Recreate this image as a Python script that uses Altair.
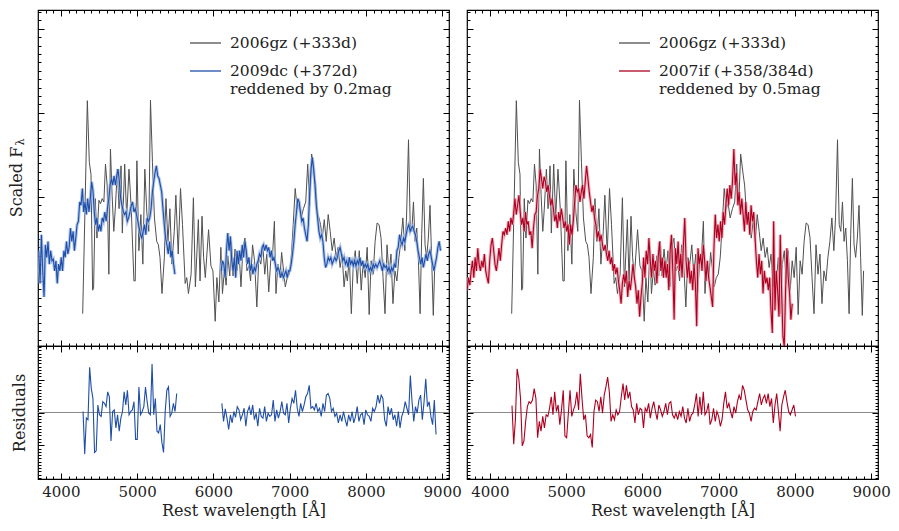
import altair as alt
import numpy as np
import pandas as pd

# ---------------- data ----------------
# SN 2006gz (+333d), grey spectrum (wavelength in Angstrom, scaled flux)
GRAY_WL = [4286, 4347, 4373, 4395, 4416, 4429, 4451, 4473, 4499, 4520, 4542, 4564, 4585, 4607, 4629,
           4650, 4672, 4694, 4715, 4741, 4763, 4789, 4806, 4837, 4863, 4893, 4923, 4958, 4975, 4997,
           5023, 5049, 5075, 5101, 5127, 5153, 5175, 5201, 5227, 5257, 5279, 5300, 5326, 5357, 5378,
           5404, 5430, 5456, 5487, 5508, 5539, 5569, 5595, 5630, 5651, 5673, 5708, 5738, 5764, 5803,
           5825, 5851, 5872, 5894, 5937, 5968, 5994, 6024, 6046, 6072, 6098, 6119, 6145, 6167, 6189,
           6215, 6236, 6258, 6284, 6310, 6336, 6362, 6388, 6414, 6440, 6466, 6488, 6514, 6540, 6570,
           6596, 6622, 6648, 6674, 6700, 6726, 6752, 6778, 6800, 6821, 6847, 6873, 6895, 6921, 6943,
           6969, 6995, 7021, 7047, 7073, 7099, 7125, 7151, 7181, 7211, 7237, 7263, 7289, 7324, 7341,
           7363, 7385, 7406, 7428, 7454, 7480, 7506, 7532, 7558, 7584, 7610, 7636, 7662, 7688, 7714,
           7736, 7757, 7783, 7809, 7835, 7861, 7887, 7913, 7939, 7965, 7991, 8017, 8043, 8069, 8095,
           8121, 8147, 8173, 8199, 8225, 8251, 8277, 8303, 8329, 8355, 8381, 8407, 8433, 8459, 8485,
           8511, 8533, 8559, 8581, 8602, 8624, 8645, 8667, 8689, 8711, 8732, 8754, 8776, 8797, 8819,
           8841, 8862, 8884, 8901]
GRAY_FLUX = [0.61, 3.145, 2.41, 2.27, 0.89, 0.91, 1.98, 1.51, 1.96, 1.92, 1.98, 1.94, 2.39, 2.14, 1.08,
             2.57, 2.02, 1.59, 1.88, 2.33, 1.86, 2.37, 1.57, 2.39, 1.75, 2.33, 1.86, 1.00, 1.00, 2.43,
             1.36, 1.79, 1.20, 2.33, 1.82, 1.59, 3.15, 2.41, 1.75, 1.47, 1.43, 1.28, 0.85, 1.28, 1.98,
             1.47, 1.86, 1.20, 1.59, 2.02, 1.32, 2.10, 1.67, 0.97, 1.04, 0.85, 1.08, 1.99, 0.93, 1.73,
             1.00, 1.77, 1.28, 1.04, 1.61, 1.18, 1.12, 0.52, 1.04, 0.75, 1.40, 0.85, 1.14, 0.95, 1.30,
             1.06, 1.47, 1.06, 1.38, 1.12, 1.36, 0.93, 1.40, 1.51, 1.12, 1.18, 1.00, 1.43, 1.24, 0.69,
             1.28, 1.20, 1.43, 1.08, 1.32, 0.87, 1.24, 1.34, 1.71, 0.85, 1.20, 1.04, 1.34, 1.12, 0.93,
             1.04, 1.08, 1.28, 1.67, 2.10, 1.86, 1.92, 1.75, 1.86, 1.94, 2.39, 1.90, 2.51, 2.25, 2.14,
             1.82, 1.75, 1.67, 1.51, 1.73, 1.47, 1.79, 1.59, 1.36, 1.51, 1.28, 1.40, 1.16, 1.32, 0.93,
             1.12, 1.00, 1.28, 0.61, 1.20, 1.36, 0.97, 1.36, 0.89, 1.24, 1.04, 1.40, 0.60, 1.24, 1.08,
             1.47, 1.69, 1.67, 1.51, 1.04, 0.61, 1.43, 1.08, 1.32, 0.73, 1.12, 1.00, 1.28, 1.47, 1.75,
             1.36, 1.75, 2.68, 1.67, 1.59, 1.94, 1.47, 1.63, 1.24, 0.61, 1.55, 2.22, 1.43, 1.28, 1.51,
             1.90, 1.28, 0.59, 1.12]

# SN 2009dc (+372d), two pieces sampled on a regular wavelength grid
BLUE_STEP = 17.33
BLUE1_START = 3710
BLUE1_FLUX = [1.36, 0.97, 1.55, 1.12, 0.81, 1.43, 1.28, 1.47, 1.20, 1.36, 1.24, 1.26, 1.12, 1.24, 0.97,
              1.20, 1.12, 1.28, 1.12, 1.36, 1.28, 1.47, 1.32, 1.40, 1.63, 1.47, 1.59, 1.36, 1.51, 1.67,
              1.71, 1.94, 1.90, 2.10, 1.82, 1.94, 1.79, 1.98, 1.82, 1.98, 2.18, 2.08, 1.82, 1.67, 1.75,
              1.59, 1.67, 1.59, 1.75, 1.71, 1.82, 1.71, 1.86, 1.98, 2.14, 2.22, 2.14, 2.25, 2.14, 2.25,
              2.33, 2.18, 1.98, 1.90, 1.82, 1.79, 1.82, 1.71, 1.75, 1.82, 1.90, 1.94, 1.82, 1.86, 1.79,
              1.71, 1.63, 1.55, 1.51, 1.59, 1.67, 1.55, 1.75, 1.71, 1.75, 1.86, 2.06, 2.18, 2.29, 2.37,
              2.25, 2.22, 2.14, 2.06, 1.86, 1.67, 1.51, 1.43, 1.32, 1.47, 1.28, 1.36, 1.20, 1.08]
BLUE2_START = 6102
BLUE2_FLUX = [1.12, 1.24, 1.20, 1.04, 1.36, 1.57, 1.36, 1.53, 1.24, 1.12,
              1.28, 1.04, 1.36, 1.20, 1.36, 1.24, 1.43, 1.28, 1.47, 1.36,
              1.20, 1.28, 1.12, 1.20, 1.08, 1.16, 1.12, 1.20, 1.24, 1.32,
              1.28, 1.40, 1.43, 1.36, 1.43, 1.36, 1.40, 1.28, 1.36, 1.24,
              1.28, 1.20, 1.12, 1.16, 1.12, 1.04, 1.10, 1.04, 1.08, 1.12,
              1.04, 1.12, 1.12, 1.20, 1.32, 1.47, 1.67, 1.82, 1.98, 1.94,
              1.82, 1.71, 1.75, 1.63, 1.55, 1.47, 1.67, 2.06, 2.33, 2.47,
              2.33, 2.14, 1.90,
              1.75, 1.59, 1.51, 1.55, 1.47, 1.28, 1.16, 1.20, 1.28, 1.24,
              1.28, 1.20, 1.24, 1.28, 1.24, 1.28, 1.36, 1.40, 1.32, 1.24,
              1.28, 1.20, 1.24, 1.16, 1.28, 1.20, 1.24, 1.18, 1.24, 1.18,
              1.24, 1.20, 1.28, 1.18, 1.24, 1.16, 1.20, 1.16, 1.20, 1.12,
              1.16, 1.12, 1.20, 1.16, 1.20, 1.16, 1.20, 1.24, 1.18, 1.12,
              1.20, 1.16, 1.18, 1.12, 1.16, 1.10, 1.16, 1.12, 1.20, 1.16,
              1.36, 1.40, 1.55, 1.47, 1.43, 1.51, 1.47, 1.55, 1.63, 1.67,
              1.59, 1.63, 1.65, 1.59, 1.55, 1.47, 1.36, 1.28, 1.20, 1.28,
              1.16, 1.24, 1.32, 1.24, 1.32, 1.36, 1.28, 1.20, 1.12, 1.20,
              1.28, 1.40, 1.47, 1.36]

# SN 2007if (+358/384d), regular wavelength grid
RED_START = 3702
RED_STEP = 17.4
RED_FLUX = [0.89, 1.04, 0.95, 1.12, 1.24, 1.04, 1.28, 1.12, 1.39, 1.20,
            1.12, 1.24, 1.16, 1.32, 1.12, 1.04, 0.97, 1.24, 1.43, 1.51,
            1.36, 1.20, 1.12, 1.24, 1.39, 1.24, 1.43, 1.59, 1.55, 1.63,
            1.55, 1.71, 1.59, 1.75, 1.67, 1.79, 1.98, 1.79, 1.90, 2.02,
            1.82, 1.67, 1.75, 1.59, 1.82, 1.67, 1.71, 1.55, 1.59, 1.39,
            1.63, 1.79, 1.82, 2.02, 2.10, 2.33, 2.22, 2.10, 2.24, 2.18,
            2.06, 2.14, 2.02, 1.90, 1.98, 1.86, 1.71, 1.79, 1.63, 1.82,
            1.71, 1.86, 1.75, 1.63, 1.71, 1.59, 1.67, 1.43, 1.67, 1.55,
            1.71, 1.94, 2.14, 2.06, 2.10, 1.94, 2.06, 2.14, 1.98, 2.18,
            2.37, 2.22, 2.06, 1.94, 1.82, 1.90, 1.75, 1.67, 1.51, 1.59,
            1.47, 1.55, 1.43, 1.36, 1.43, 1.32, 1.24, 1.36, 1.20, 1.28,
            1.12, 1.20, 1.08, 1.16, 1.00, 0.89, 0.73, 0.97, 1.08, 0.97,
            1.12, 0.81, 1.00, 0.89, 1.04, 1.20, 1.04, 0.93, 0.73, 0.89,
            0.575, 0.81, 0.97,
            1.28, 1.04, 1.36, 1.20, 1.51, 1.24, 1.04, 1.32, 1.12, 1.24,
            0.97, 1.28, 1.47, 1.12, 1.28, 1.04, 1.24, 1.04, 1.20, 0.89,
            1.36, 1.55, 1.12, 0.54, 1.39, 1.20, 1.47, 1.12, 1.32, 1.04,
            1.43, 1.75, 1.24, 1.04, 1.24, 0.97, 1.12, 0.89, 1.20, 0.97,
            0.46, 1.39, 1.20, 1.32, 1.12, 1.43, 1.24, 1.00, 1.24, 1.04,
            0.93, 0.81, 0.69, 1.39, 1.79, 1.51, 1.67, 1.47, 1.71, 1.51,
            1.82, 1.67, 1.90, 2.10, 1.90, 2.14, 1.98, 2.18, 2.57, 2.14,
            2.29, 1.90, 2.06, 1.79, 1.98, 1.79, 1.59, 1.94, 1.67, 1.82,
            1.55, 1.90, 1.71, 1.82, 1.51, 1.24, 1.04, 1.32, 1.08, 1.24,
            0.85, 1.12, 0.97, 1.04, 0.89, 1.04, 0.65, 0.38, 1.71, 0.65,
            1.12, 0.89, 0.575, 1.55, 0.89, 0.34, 0.22, 0.89, 1.39, 1.04,
            0.85, 0.54, 0.73]

# Residuals (2006gz minus comparison), regular grids between first and last wavelength
RES_BLUE1_RANGE = (4291, 5519)
RES_BLUE1 = [0.03, -1.27, -0.17, -0.22, 1.38, 0.73, 0.43, -1.22, -1.17, 0.23,
             -0.07, -0.12, 0.33, 0.28, 0.18, 0.63, 0.48, -0.87, 0.03, 0.08,
             -0.47, -0.07, -0.57, -0.17, 0.03, 0.63, 0.23, 0.68, -0.07, 0.03,
             0.08, 0.33, -0.82, -0.82, 0.78, -0.07, 0.03, 0.18, 0.78, 0.33,
             -0.02, -0.07, 1.48, -0.07, 0.43, -0.57, -0.62, -0.37, -0.92, -1.22,
             0.03, 0.68, 0.78, -0.12, -0.02, 0.28, 0.03, 0.58]
RES_BLUE2_RANGE = (6111, 8920)
RES_BLUE2 = [0.28, -0.27, 0.11, -0.17, -0.52, -0.07, -0.32, 0.03, -0.15, 0.18,
             0.08, -0.22, -0.07, 0.13, -0.42, 0.03, 0.18, -0.07, 0.23, -0.22,
             -0.02, -0.42, 0.13, -0.12, -0.17, 0.18, -0.27, -0.02, -0.12, -0.07,
             0.38, -0.27, 0.08, -0.17, 0.03, 0.33, -0.02, -0.07, 0.28, -0.32,
             0.13, 0.43, 0.28, 0.68, 0.13, -0.12, 0.28, 0.03, 0.23, 0.48,
             0.58, 0.83, 0.13, 0.18, 0.08, 0.28, 0.03, 0.13, -0.12, 0.28,
             0.03, 0.53, 0.58, 0.43, 0.03, 0.13, -0.12, -0.02, -0.32, -0.07,
             -0.27, 0.03, -0.22, -0.42, -0.07, -0.27, 0.03, -0.32, -0.12, 0.18,
             -0.27, -0.07, -0.02, -0.37, 0.08, -0.07, -0.12, -0.27, 0.13, 0.03,
             0.18, 0.53, 0.28, 0.53, 0.43, -0.22, -0.42, 0.18, -0.07, 0.13,
             -0.22, -0.07, -0.42, 0.03, -0.47, -0.12, 0.03, 0.33, 0.13, -0.07,
             1.13, 0.33, -0.27, 0.18, -0.02, 0.38, 0.53, -0.22, 0.33, 1.03,
             0.18, 0.33, -0.12, -0.37, 0.38, -0.67]
RES_RED_RANGE = (4290, 8008)
RES_RED = [0.21, -0.97, -0.22, 1.33, 1.03, 0.43, -1.02, -0.87, -0.27, 0.18,
           0.33, 0.28, 0.38, 0.73, 0.43, -0.77, -0.27, -0.57, -0.12, -0.47,
           -0.07, -0.12, 0.13, 0.48, -0.07, 0.63, 0.03, 0.23, -0.37, 0.08,
           0.68, -0.72, -0.77, -0.02, 0.68, -0.12, 0.08, 0.23, 0.63, 0.08,
           1.18, 0.43, -0.22, -0.07, -0.72, -0.77, -0.67, -1.07, 0.03, 0.38,
           0.33, 0.03, 0.48, -0.02, 0.53, 0.78, 1.08, 0.63, -0.27, -0.07,
           -0.22, 0.08, -0.07, 0.03, 0.48, 0.88, 0.38, 0.83, 0.43, 0.63,
           0.18, 0.08, -0.32, 0.28, -0.07, 0.13, 0.08, -0.47, 0.13, 0.03,
           0.28, -0.17, 0.13, 0.33, 0.03, -0.22, 0.23, 0.08, -0.12, 0.03,
           0.28, -0.07, 0.28, 0.33, -0.07, -0.17, -0.02, -0.22, 0.03, -0.12,
           0.18, -0.17, -0.32, 0.13, -0.27, -0.07, -0.02, 0.23, 0.58, -0.12,
           0.48, -0.07, 0.63, -0.07, 0.03, 0.28, -0.37, -0.22, 0.13, -0.27,
           0.03, -0.12, -0.42, -0.22, 0.28, 0.63, 0.13, 0.28, 0.03, -0.17,
           0.18, -0.02, 0.33, 0.53, 0.38, 0.83, 0.68, 0.38, 0.08, -0.02,
           -0.27, 0.03, 0.13, 0.08, 0.33, 0.58, 0.23, 0.43, 0.53, 0.28,
           0.58, 0.18, 0.43, -0.32, 0.23, 0.58, 0.03, -0.57, 0.23, 0.48,
           0.68, 0.33, 0.03, -0.07, 0.08, 0.23, -0.12]

LEGEND_LEFT = ["2006gz (+333d)", "2009dc (+372d)", "reddened by 0.2mag"]
LEGEND_RIGHT = ["2006gz (+333d)", "2007if (+358/384d)", "reddened by 0.5mag"]
YTITLE_TOP = ("Scaled F", "λ")
YTITLE_RES = "Residuals"
XTITLE = "Rest wavelength [Å]"

X_MAJOR = [4000, 5000, 6000, 7000, 8000, 9000]
X_MINOR = [3800 + 100 * i for i in range(53)]
Y_MAJOR = [1, 2, 3, 4]
Y_MINOR = [round(0.3 + 0.1 * i, 1) for i in range(40)]
R_MAJOR = [-1, 0, 1]
R_MINOR = [round(-2.0 + 0.1 * i, 1) for i in range(41)]

# ---------------- styling ----------------
FONT = "DejaVu Serif"
XDOM = [3700, 9090]
YDOM = [0.226, 4.224]
RDOM = [-2.03, 2.03]
W, H_TOP, H_RES = 411, 336, 133
GRAY = "#505050"
TXT = "#222222"
BLUE, BLUE_HALO = "#1f4ea6", "#9db8e6"
RED, RED_HALO = "#ad0020", "#eba3b0"
TITLE_PAD = 10

# ---------------- tables ----------------
gray = pd.DataFrame({"wl": GRAY_WL, "y": GRAY_FLUX, "seg": "a"})
blue = pd.concat([
    pd.DataFrame({"wl": BLUE1_START + BLUE_STEP * np.arange(len(BLUE1_FLUX)), "y": BLUE1_FLUX, "seg": "a"}),
    pd.DataFrame({"wl": BLUE2_START + BLUE_STEP * np.arange(len(BLUE2_FLUX)), "y": BLUE2_FLUX, "seg": "b"}),
])
red = pd.DataFrame({"wl": RED_START + RED_STEP * np.arange(len(RED_FLUX)), "y": RED_FLUX, "seg": "a"})
res_blue = pd.concat([
    pd.DataFrame({"wl": np.linspace(*RES_BLUE1_RANGE, len(RES_BLUE1)), "y": RES_BLUE1, "seg": "a"}),
    pd.DataFrame({"wl": np.linspace(*RES_BLUE2_RANGE, len(RES_BLUE2)), "y": RES_BLUE2, "seg": "b"}),
])
res_red = pd.DataFrame({"wl": np.linspace(*RES_RED_RANGE, len(RES_RED)), "y": RES_RED, "seg": "a"})
zero = pd.DataFrame({"y": [0.0]})
one = pd.DataFrame({"k": [0]})


def scales(ydom):
    return (alt.Scale(domain=XDOM, nice=False, zero=False),
            alt.Scale(domain=ydom, nice=False, zero=False))


def carriers(df, ydom, ymaj, ymin, xlabels, xtitle, ytitle):
    xs, ys = scales(ydom)
    out = []
    for xo, yo, size, major in [("bottom", "left", 6, True), ("bottom", "left", 3, False),
                                ("top", "right", 6, True), ("top", "right", 3, False)]:
        show_xl = bool(xlabels and major and xo == "bottom")
        xt = xtitle if show_xl else None
        yt = ytitle if (major and yo == "left") else None
        xax = alt.Axis(orient=xo, values=X_MAJOR if major else X_MINOR, tickSize=size, offset=-size,
                       domain=False, grid=False, labels=show_xl, labelPadding=5, titlePadding=3,
                       tickColor="black", tickWidth=1, format="d")
        yax = alt.Axis(orient=yo, values=ymaj if major else ymin, tickSize=size, offset=-size,
                       domain=False, grid=False, labels=False, titlePadding=TITLE_PAD,
                       tickColor="black", tickWidth=1)
        out.append(alt.Chart(df).mark_point(opacity=0).encode(
            x=alt.X("wl:Q", scale=xs, axis=xax, title=xt),
            y=alt.Y("y:Q", scale=ys, axis=yax, title=yt)))
    return out


def line(df, ydom, color, width, opacity=1.0):
    xs, ys = scales(ydom)
    return alt.Chart(df).mark_line(color=color, strokeWidth=width, opacity=opacity, clip=True).encode(
        x=alt.X("wl:Q", scale=xs, axis=None),
        y=alt.Y("y:Q", scale=ys, axis=None),
        detail="seg:N")


def legend(labels, color):
    items = []
    for y, c in [(33, GRAY), (61, color)]:
        items.append(alt.Chart(one).mark_rule(color=c, strokeWidth=1.3).encode(
            x=alt.value(152), x2=alt.value(183), y=alt.value(y)))
    for y, t in zip([33, 61, 79], labels):
        items.append(alt.Chart(one).mark_text(text=t, align="left", baseline="middle", font=FONT,
                                              fontSize=15.5, color=TXT).encode(
            x=alt.value(192), y=alt.value(y)))
    return items


def ytitle_sub(main, sub):
    # rotated y title with a subscript (F_lambda)
    cx, cy = -(TITLE_PAD + 11), H_TOP / 2 + 4
    return [
        alt.Chart(one).mark_text(text=main, angle=270, align="center", baseline="middle",
                                 font=FONT, fontSize=16, color=TXT).encode(
            x=alt.value(cx), y=alt.value(cy)),
        alt.Chart(one).mark_text(text=sub, angle=270, align="center", baseline="middle",
                                 font=FONT, fontSize=11, color=TXT).encode(
            x=alt.value(cx + 4), y=alt.value(cy - 40)),
    ]


def top_panel(comp, color, halo, labels, with_title):
    layers = carriers(gray, YDOM, Y_MAJOR, Y_MINOR, False, None, None)
    layers += [line(gray, YDOM, GRAY, 1.0),
               line(comp, YDOM, halo, 3.2, 0.8),
               line(comp, YDOM, color, 1.1)]
    layers += legend(labels, color)
    if with_title:
        layers += ytitle_sub(*YTITLE_TOP)
    return alt.layer(*layers).properties(width=W, height=H_TOP).resolve_axis(x="independent", y="independent")


def res_panel(res, color, ytitle):
    xs, ys = scales(RDOM)
    layers = carriers(res, RDOM, R_MAJOR, R_MINOR, True, XTITLE, ytitle)
    layers += [alt.Chart(zero).mark_rule(color="#8a8a8a", strokeWidth=1).encode(
                   y=alt.Y("y:Q", scale=ys, axis=None)),
               line(res, RDOM, color, 1.1)]
    return alt.layer(*layers).properties(width=W, height=H_RES).resolve_axis(x="independent", y="independent")


TL = top_panel(blue, BLUE, BLUE_HALO, LEGEND_LEFT, True)
TR = top_panel(red, RED, RED_HALO, LEGEND_RIGHT, False)
BL = res_panel(res_blue, BLUE, YTITLE_RES)
BR = res_panel(res_red, RED, None)

chart = alt.concat(TL, TR, BL, BR, columns=2, spacing=alt.RowColnumber(row=0, column=18),
                   bounds="flush").properties(
    padding={"left": 0, "top": 0, "right": 0, "bottom": 0}
).configure_view(stroke="black", strokeWidth=1.2).configure_axis(
    labelFont=FONT, titleFont=FONT, labelFontSize=15, titleFontSize=16,
    titleFontWeight="normal", labelColor=TXT, titleColor=TXT
)

chart.save("out.html", embed_options={"renderer": "svg", "actions": False})
